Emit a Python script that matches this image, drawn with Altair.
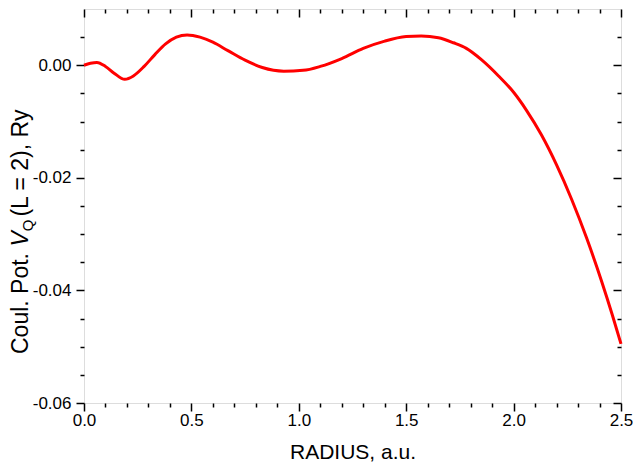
import altair as alt
import pandas as pd

# ---- data ----
radius = [0.00, 0.03, 0.06, 0.10, 0.14, 0.19, 0.23, 0.28, 0.33, 0.38, 0.43, 0.48,
          0.54, 0.60, 0.67, 0.75, 0.83, 0.93, 1.02, 1.10, 1.20, 1.30, 1.40, 1.50,
          1.57, 1.65, 1.72, 1.78, 1.85, 1.93, 2.00, 2.06, 2.13, 2.20, 2.27, 2.34,
          2.41, 2.46, 2.50]
vq = [0.0000, 0.00035, 0.0005, -0.0002, -0.0014, -0.0025, -0.0019, -0.0002, 0.0019,
      0.0038, 0.0050, 0.0054, 0.0050, 0.0041, 0.0026, 0.0009, -0.0004, -0.00105,
      -0.0009, -0.0002, 0.0012, 0.0030, 0.0043, 0.0051, 0.0052, 0.0049, 0.0040,
      0.0030, 0.0010, -0.0019, -0.0048, -0.0080, -0.0124, -0.0177, -0.0238,
      -0.0307, -0.0384, -0.0444, -0.0495]

x_major = [0.0, 0.5, 1.0, 1.5, 2.0, 2.5]
x_minor = [round(0.1 * i, 1) for i in range(26) if i % 5 != 0]
y_major = [-0.06, -0.04, -0.02, 0.0]
y_minor = [-0.055, -0.05, -0.045, -0.035, -0.03, -0.025, -0.015, -0.01, -0.005, 0.005]

x_title = "RADIUS, a.u."
y_title_parts = ["Coul. Pot. ", "V", "Q", " (L = 2), Ry"]

df = pd.DataFrame({"r": radius, "v": vq})

W, H = 537, 394
PAD_L = 76
FONT = "Arial, Liberation Sans"

xs = alt.Scale(domain=[0, 2.5], nice=False, zero=False)
ys = alt.Scale(domain=[-0.06, 0.01], nice=False, zero=False)

def ax(orient, values, size, offset=0):
    return alt.Axis(orient=orient, values=values, tickSize=size, labels=False,
                    domain=False, grid=False, offset=offset, tickColor="black",
                    tickWidth=1.5, title=None)

base = alt.Chart(df)

main = base.mark_line(color="#ff0000", strokeWidth=3, interpolate="monotone").encode(
    x=alt.X("r:Q", scale=xs,
            axis=alt.Axis(orient="bottom", values=x_major, tickSize=8, labels=True,
                          domain=False, grid=False, tickColor="black", tickWidth=1.5,
                          format=".1f", labelFlush=False, labelFont=FONT,
                          labelFontSize=17, labelColor="black", labelPadding=1,
                          title=x_title, titleFont=FONT, titleFontSize=21,
                          titleFontWeight="normal", titleColor="black",
                          titlePadding=13)),
    y=alt.Y("v:Q", scale=ys,
            axis=alt.Axis(orient="left", values=y_major, tickSize=8, labels=True,
                          domain=False, grid=False, tickColor="black", tickWidth=1.5,
                          labelExpr="(datum.value < 0 ? '-' : '') + format(abs(datum.value), '.2f')",
                          labelFlush=False, labelFont=FONT, labelFontSize=17,
                          labelColor="black", labelPadding=5, title=None)),
)

minor = base.mark_line(strokeOpacity=0).encode(
    x=alt.X("r:Q", scale=xs, axis=ax("bottom", x_minor, 4)),
    y=alt.Y("v:Q", scale=ys, axis=ax("left", y_minor, 4)),
)
mirror_major = base.mark_line(strokeOpacity=0).encode(
    x=alt.X("r:Q", scale=xs, axis=ax("bottom", x_major, 8, offset=-H)),
    y=alt.Y("v:Q", scale=ys, axis=ax("left", y_major, 8, offset=-W)),
)
mirror_minor = base.mark_line(strokeOpacity=0).encode(
    x=alt.X("r:Q", scale=xs, axis=ax("bottom", x_minor, 4, offset=-H)),
    y=alt.Y("v:Q", scale=ys, axis=ax("left", y_minor, 4, offset=-W)),
)

# y title composed of pieces (italic V, subscript Q)
FS = 23
w1 = 4669 * FS / 1000
wV = 667 * FS / 1000
FSQ = 15
wQ = 778 * FSQ / 1000 + 3
start = 345
bx = -(PAD_L - 20)
one = alt.Data(values=[{"k": 1}])

def piece(txt, y, x, size, style="normal"):
    return alt.Chart(one).mark_text(text=txt, angle=270, align="left",
                                    baseline="alphabetic", font=FONT, fontSize=size,
                                    fontStyle=style, color="black").encode(
        x=alt.value(x), y=alt.value(y))

t1 = piece(y_title_parts[0], start, bx, FS)
t2 = piece(y_title_parts[1], start - w1, bx, FS, "italic")
t3 = piece(y_title_parts[2], start - w1 - wV, bx + 5, FSQ)
t4 = piece(y_title_parts[3], start - w1 - wV - wQ, bx, FS)

chart = alt.layer(minor, mirror_major, mirror_minor, main, t1, t2, t3, t4).resolve_axis(
    x="independent", y="independent"
).properties(
    width=W, height=H,
    autosize=alt.AutoSizeParams(type="none"),
    padding={"left": PAD_L, "top": 1, "right": 12, "bottom": 61},
).configure_view(
    stroke="black", strokeWidth=1.5
).configure(background="white")

chart.save("out.html", embed_options={"renderer": "svg", "actions": False})
